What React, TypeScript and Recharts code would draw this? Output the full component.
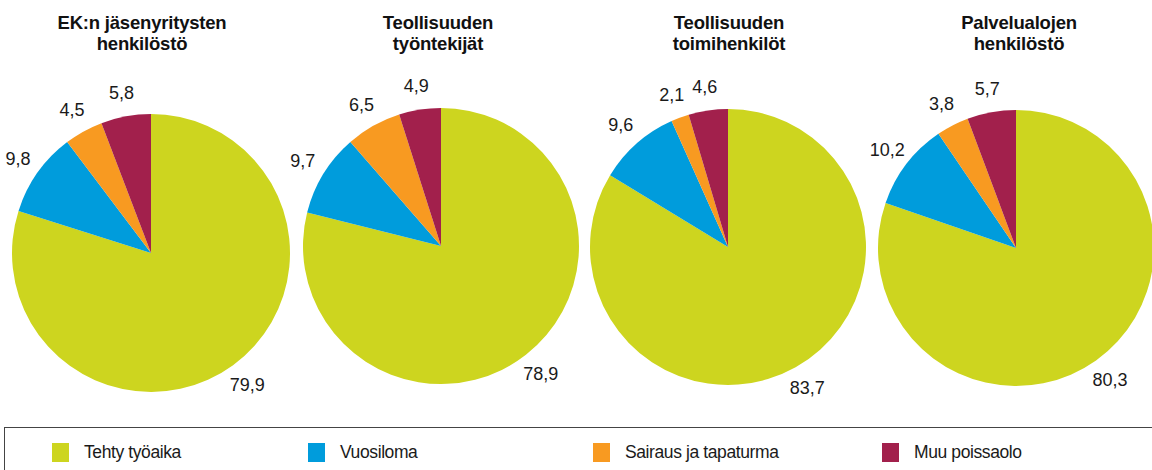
import { PieChart, Pie, Cell } from "recharts";

const categories = ["Tehty työaika", "Vuosiloma", "Sairaus ja tapaturma", "Muu poissaolo"];
const colors = ["#cdd51f", "#009cdc", "#f89a21", "#a2204c"];

const titles = [
  ["EK:n jäsenyritysten", "henkilöstö"],
  ["Teollisuuden", "työntekijät"],
  ["Teollisuuden", "toimihenkilöt"],
  ["Palvelualojen", "henkilöstö"],
];

const ekValues = [79.9, 9.8, 4.5, 5.8];
const workersValues = [78.9, 9.7, 6.5, 4.9];
const officialsValues = [83.7, 9.6, 2.1, 4.6];
const servicesValues = [80.3, 10.2, 3.8, 5.7];

const seriesValues = [ekValues, workersValues, officialsValues, servicesValues];

// placement of each pie in the picture
const pies = [
  { cx: 151, cy: 253, r: 139, titleX: 142 },
  { cx: 441, cy: 246, r: 138, titleX: 438 },
  { cx: 728, cy: 247, r: 138, titleX: 729 },
  { cx: 1016, cy: 248, r: 138, titleX: 1019 },
];

const FONT = "'Liberation Sans', Arial, Helvetica, sans-serif";
const RAD = Math.PI / 180;

const renderLabel = (props: any) => {
  const { cx, cy, midAngle, outerRadius, value } = props;
  const rr = outerRadius + 24;
  const x = cx + rr * Math.cos(-midAngle * RAD);
  const y = cy + rr * Math.sin(-midAngle * RAD);
  return (
    <text
      x={x}
      y={y}
      textAnchor="middle"
      dominantBaseline="central"
      fill="#1a1a1a"
      fontSize={18}
      fontFamily={FONT}
    >
      {Number(value).toFixed(1).replace(".", ",")}
    </text>
  );
};

const App = () => {
  return (
    <div
      style={{
        position: "absolute",
        left: 0,
        top: 0,
        width: 1152,
        height: 470,
        overflow: "hidden",
        background: "#fff",
        fontFamily: FONT,
      }}
    >
      {pies.map((p, i) => (
        <div
          key={i}
          style={{
            position: "absolute",
            left: p.titleX - 130,
            top: 12,
            width: 260,
            textAlign: "center",
            fontWeight: "bold",
            fontSize: 18.5,
            lineHeight: "21px",
            letterSpacing: -0.2,
            color: "#111",
          }}
        >
          {titles[i][0]}
          <br />
          {titles[i][1]}
        </div>
      ))}
      <div style={{ position: "absolute", left: 0, top: 0 }}>
        <PieChart width={1152} height={420} margin={{ top: 0, right: 0, bottom: 0, left: 0 }}>
          {pies.map((p, i) => (
            <Pie
              key={i}
              data={categories.map((name, k) => ({ name, value: seriesValues[i][k] }))}
              dataKey="value"
              nameKey="name"
              cx={p.cx}
              cy={p.cy}
              outerRadius={p.r}
              startAngle={90}
              endAngle={-270}
              stroke="none"
              label={renderLabel}
              labelLine={false}
              isAnimationActive={false}
            >
              {categories.map((c, k) => (
                <Cell key={c} fill={colors[k]} />
              ))}
            </Pie>
          ))}
        </PieChart>
      </div>
      <div
        style={{
          position: "absolute",
          left: 4,
          top: 427,
          width: 1160,
          height: 60,
          border: "1.5px solid #444",
          boxSizing: "border-box",
        }}
      />
      {categories.map((c, k) => {
        const left = [52, 308, 593, 882][k];
        return (
          <div
            key={c}
            style={{ position: "absolute", left, top: 442, display: "flex", alignItems: "center" }}
          >
            <span style={{ display: "inline-block", width: 17, height: 19, background: colors[k] }} />
            <span style={{ marginLeft: 15, fontSize: 17.5, letterSpacing: -0.4, color: "#1a1a1a" }}>{c}</span>
          </div>
        );
      })}
    </div>
  );
};

export default App;
